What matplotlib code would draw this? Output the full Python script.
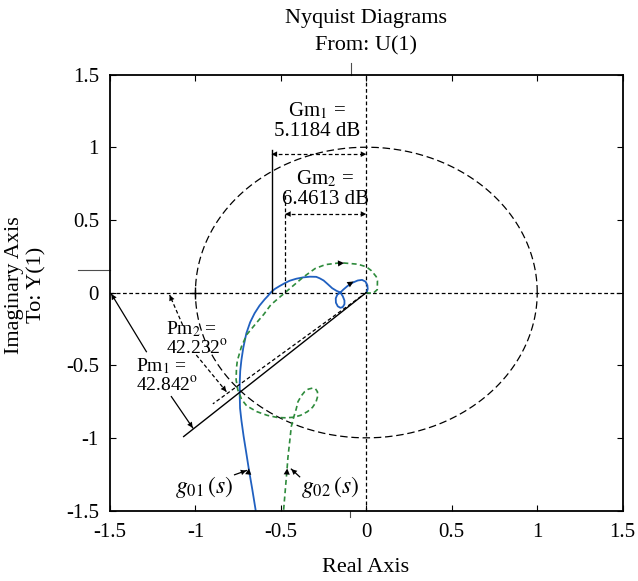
import numpy as np
import matplotlib.pyplot as plt
from matplotlib.lines import Line2D

plt.rcParams['font.family'] = ['Liberation Serif', 'DejaVu Serif']
plt.rcParams['mathtext.fontset'] = 'stix'

# Nyquist curve of g01(s) (blue)
g01_re = [-0.648, -0.668, -0.687, -0.703, -0.718, -0.731, -0.739, -0.741, -0.741,
          -0.738, -0.731, -0.720, -0.702, -0.680, -0.654, -0.625, -0.595, -0.575,
          -0.560, -0.535, -0.507, -0.478, -0.449, -0.410, -0.371, -0.330, -0.293,
          -0.273, -0.250, -0.226, -0.200, -0.175, -0.152, -0.138, -0.128, -0.128,
          -0.138, -0.152, -0.167, -0.178, -0.179, -0.170, -0.152, -0.135, -0.110,
          -0.080, -0.050, -0.025, -0.005, 0.006, 0.008, 0.004, 0.0]
g01_im = [-1.495, -1.350, -1.220, -1.100, -0.990, -0.880, -0.796, -0.700, -0.624,
          -0.540, -0.464, -0.380, -0.280, -0.205, -0.143, -0.090, -0.047, -0.022,
          0.0, 0.025, 0.045, 0.064, 0.081, 0.095, 0.104, 0.109, 0.108,
          0.098, 0.083, 0.058, 0.030, 0.012, 0.0, -0.025, -0.055, -0.080,
          -0.100, -0.105, -0.095, -0.070, -0.040, -0.015, 0.0, 0.020, 0.045,
          0.068, 0.083, 0.087, 0.075, 0.050, 0.025, 0.006, 0.0]

# Nyquist curve of g02(s) (green dashed)
g02_re = [-0.484, -0.464, -0.459, -0.448, -0.439, -0.424, -0.410, -0.400, -0.380,
          -0.361, -0.340, -0.316, -0.298, -0.286, -0.285, -0.295, -0.315, -0.345,
          -0.385, -0.424, -0.470, -0.520, -0.580, -0.640, -0.700, -0.730, -0.752,
          -0.762, -0.760, -0.755, -0.731, -0.700, -0.644, -0.600, -0.560, -0.520,
          -0.478, -0.440, -0.370, -0.300, -0.240, -0.150, -0.050, 0.0, 0.030,
          0.058, 0.065, 0.064, 0.040, 0.009, 0.0]
g02_im = [-1.495, -1.215, -1.137, -1.020, -0.922, -0.854, -0.800, -0.751, -0.710,
          -0.682, -0.665, -0.658, -0.662, -0.683, -0.715, -0.755, -0.790, -0.820,
          -0.845, -0.858, -0.862, -0.860, -0.845, -0.820, -0.780, -0.735, -0.670,
          -0.600, -0.520, -0.470, -0.373, -0.290, -0.210, -0.150, -0.086, -0.045,
          -0.003, 0.035, 0.105, 0.165, 0.192, 0.205, 0.195, 0.177, 0.150,
          0.109, 0.080, 0.020, -0.005, -0.003, 0.0]

# direction arrows on the curves: (tail, head)
blue_arrows = [((-0.693, -1.27), (-0.687, -1.21)), ((-0.10, 0.058), (-0.075, 0.076))]
green_arrows = [((-0.467, -1.27), (-0.463, -1.21)), ((-0.17, 0.200), (-0.13, 0.203))]

# margins
gm_db = [5.1184, 6.4613]
gm_labels = ['Gm$_1$ =\n5.1184 dB', 'Gm$_2$ =\n6.4613 dB']
pm_labels = ['Pm$_1$ =\n42.842$^\\mathrm{o}$', 'Pm$_2$ =\n42.232$^\\mathrm{o}$']
pm1_end = (-1.069, -0.991)
pm2_end = (-0.898, -0.766)

ticks = [-1.5, -1, -0.5, 0, 0.5, 1, 1.5]
tick_labels = ['-1.5', '-1', '-0.5', '0', '0.5', '1', '1.5']

blue = '#2060c0'
green = '#2e8b3c'

fig = plt.figure(figsize=(6.38, 5.81), dpi=100)
ax = fig.add_axes([0.1724, 0.1213, 0.8036, 0.7504])
ax.set_xlim(-1.5, 1.5)
ax.set_ylim(-1.5, 1.5)
ax.set_xticks(ticks)
ax.set_xticklabels(tick_labels)
ax.set_yticks(ticks)
ax.set_yticklabels(tick_labels)
ax.tick_params(direction='in', top=True, right=True, length=4, width=0.8,
               labelsize=15)
ax.tick_params(axis='x', pad=9)
ax.tick_params(axis='y', pad=8)
for s in ax.spines.values():
    s.set_linewidth(1.3)

# reference lines and unit circle
ax.axhline(0, color='k', ls=(0, (3, 2)), lw=0.9)
ax.axvline(0, color='k', ls=(0, (3, 2)), lw=0.9)
t = np.linspace(0, 2 * np.pi, 400)
ax.plot(np.cos(t), np.sin(t), color='k', ls=(0, (6, 3)), lw=0.9)
ax.plot([-1], [0], marker='+', color='k', ms=9, mew=1)

# curves
ax.plot(g01_re, g01_im, color=blue, lw=1.3)
ax.plot(g02_re, g02_im, color=green, lw=1.2, ls=(0, (3, 2)))
for tail, head in blue_arrows + green_arrows:
    ax.annotate('', xy=head, xytext=tail,
                arrowprops=dict(arrowstyle='-|>', color='k', lw=0.01,
                                mutation_scale=11, shrinkA=0, shrinkB=0))


def arrow(tail, head, dashed=False, both=False):
    ls = (0, (3, 2)) if dashed else '-'
    ax.plot([tail[0], head[0]], [tail[1], head[1]], color='k', lw=0.9, ls=ls)
    ends = [(tail, head)] + ([(head, tail)] if both else [])
    for a, b in ends:
        d = np.array(b) - np.array(a)
        a2 = np.array(b) - 0.02 * d / np.hypot(*d)
        ax.annotate('', xy=b, xytext=tuple(a2),
                    arrowprops=dict(arrowstyle='-|>', color='k', lw=0.01,
                                    mutation_scale=10, shrinkA=0, shrinkB=0))


# gain margins
gm_x = [-10 ** (-g / 20) for g in gm_db]
ax.plot([gm_x[0], gm_x[0]], [0, 0.98], color='k', lw=1.0)
arrow((gm_x[0], 0.952), (0, 0.952), dashed=True, both=True)
ax.text(-0.29, 1.18, gm_labels[0], fontsize=15, ha='center', va='center',
        linespacing=1.05, multialignment='center')
ax.plot([gm_x[1], gm_x[1]], [0, 0.70], color='k', lw=0.9, ls=(0, (3, 2)))
arrow((gm_x[1], 0.54), (0, 0.54), dashed=True, both=True)
ax.text(-0.24, 0.715, gm_labels[1], fontsize=15, ha='center', va='center',
        linespacing=1.05)

# phase margins
ax.plot([0, pm1_end[0]], [0, pm1_end[1]], color='k', lw=1.0)
ax.plot([0, pm2_end[0]], [0, pm2_end[1]], color='k', lw=0.9, ls=(0, (3, 2)))
ax.text(-1.35, -0.57, pm_labels[0], fontsize=14, ha='left', va='center',
        linespacing=1.0)
ax.text(-1.17, -0.315, pm_labels[1], fontsize=14, ha='left', va='center',
        linespacing=1.0)
arrow((-1.287, -0.407), (-1.492, -0.01))
arrow((-1.141, -0.716), (-1.016, -0.931))
arrow((-1.075, -0.223), (-1.151, -0.017), dashed=True)
arrow((-0.995, -0.43), (-0.819, -0.682), dashed=True)

# curve labels
ax.text(-0.95, -1.337, '$g_{01}\\,(s)$', fontsize=17, ha='center', va='center')
ax.text(-0.215, -1.337, '$g_{02}\\,(s)$', fontsize=17, ha='center', va='center')
arrow((-0.771, -1.254), (-0.702, -1.225))
arrow((-0.390, -1.268), (-0.439, -1.215))

# I/O separators
for xs, ys in [([0.470, 0.470], [1.0, 1.026]), ([-0.062, 0.0], [0.552, 0.552]),
               ([0.468, 0.468], [0.0, -0.015])]:
    ax.add_line(Line2D(xs, ys, transform=ax.transAxes, color='0.3', lw=0.8,
                       clip_on=False))

fig.text(366 / 638, 1 - 18 / 581, 'Nyquist Diagrams', fontsize=16, ha='center',
         va='center')
fig.text(366 / 638, 1 - 46 / 581, 'From: U(1)', fontsize=16, ha='center',
         va='center')
fig.text(15 / 638, 1 - 285 / 581, 'Imaginary Axis', fontsize=16, rotation=90,
         ha='center', va='center')
fig.text(37 / 638, 1 - 285 / 581, 'To: Y(1)', fontsize=16, rotation=90,
         ha='center', va='center')
fig.text(366 / 638, 1 - 567 / 581, 'Real Axis', fontsize=16, ha='center',
         va='center')

fig.savefig('out.png', dpi=100)
